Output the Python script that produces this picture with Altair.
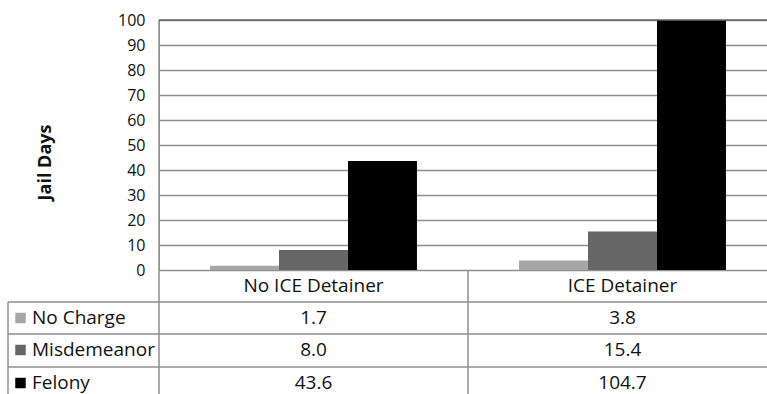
import altair as alt
import pandas as pd

categories = ["No ICE Detainer", "ICE Detainer"]
series = ["No Charge", "Misdemeanor", "Felony"]
no_ice_values = [1.7, 8.0, 43.6]
ice_values = [3.8, 15.4, 104.7]
colors = ["#a6a6a6", "#666666", "#000000"]
y_ticks = list(range(0, 101, 10))

rows = []
for cat, vals in zip(categories, [no_ice_values, ice_values]):
    for s, v in zip(series, vals):
        rows.append({"cat": cat, "series": s, "value": v, "label": f"{v:.1f}"})
df = pd.DataFrame(rows)
ser_df = pd.DataFrame({"series": series})
cat_df = pd.DataFrame({"cat": categories})

FONT = "Open Sans"
GRID = "#8f8f8f"
TFS = 19

x_scale = alt.Scale(domain=categories, range=[0, 618], paddingInner=0, paddingOuter=0)
color_scale = alt.Scale(domain=series, range=colors)

bars = alt.Chart(df).mark_bar(clip=True).encode(
    x=alt.X("cat:N", sort=categories, scale=x_scale,
            axis=alt.Axis(labels=False, ticks=False, title=None, domain=True,
                          domainColor=GRID, grid=False)),
    xOffset=alt.XOffset("series:N", sort=series,
                        scale=alt.Scale(domain=series, paddingInner=0, paddingOuter=0.74)),
    y=alt.Y("value:Q", scale=alt.Scale(domain=[0, 100], nice=False),
            axis=alt.Axis(values=y_ticks, grid=True, gridColor=GRID, gridWidth=1.3,
                          domainColor=GRID, ticks=False, labelPadding=14,
                          labelFont=FONT, labelFontSize=16, labelColor="#111",
                          title="Jail Days", titleFont=FONT, titleFontSize=18,
                          titleFontWeight="bold", titleColor="#111",
                          titleX=-114, titleY=142, titleBaseline="middle")),
    color=alt.Color("series:N", scale=color_scale, legend=None),
)

layers = [bars]

# table lines
base_rule = alt.Chart(pd.DataFrame({"a": [0]}))
for yy in [282, 314, 347]:
    layers.append(base_rule.mark_rule(color=GRID, strokeWidth=1.5).encode(
        x=alt.value(-151), x2=alt.value(620), y=alt.value(yy)))
layers.append(base_rule.mark_rule(color=GRID, strokeWidth=1.5).encode(
    x=alt.value(0), y=alt.value(0), y2=alt.value(380)))
layers.append(base_rule.mark_rule(color=GRID, strokeWidth=1.5).encode(
    x=alt.value(-151), y=alt.value(282), y2=alt.value(380)))
layers.append(alt.Chart(cat_df).transform_filter(alt.datum.cat == categories[1]).mark_rule(
    color=GRID, strokeWidth=1.5).encode(
    x=alt.X("cat:N", sort=categories, bandPosition=0, scale=x_scale),
    y=alt.value(250), y2=alt.value(380)))
layers.append(base_rule.mark_rule(color="#666666", strokeWidth=1.5).encode(
    x=alt.value(0), x2=alt.value(620), y=alt.value(0)))

# header labels
layers.append(alt.Chart(cat_df).mark_text(font=FONT, fontSize=TFS, color="#111",
                                         baseline="middle").encode(
    x=alt.X("cat:N", sort=categories, scale=x_scale), text="cat:N", y=alt.value(266)))

row_y = [298, 330, 363]
for s, yy in zip(series, row_y):
    layers.append(alt.Chart(df).transform_filter(alt.datum.series == s).mark_text(
        font=FONT, fontSize=TFS, color="#111", baseline="middle").encode(
        x=alt.X("cat:N", sort=categories, scale=x_scale), text="label:N", y=alt.value(yy)))
    sub = alt.Chart(ser_df).transform_filter(alt.datum.series == s)
    layers.append(sub.mark_text(font=FONT, fontSize=TFS, color="#111", align="left",
                                baseline="middle").encode(
        x=alt.value(-127), y=alt.value(yy), text="series:N"))
    layers.append(sub.mark_square(size=110, opacity=1).encode(
        x=alt.value(-138.5), y=alt.value(yy),
        color=alt.Color("series:N", scale=color_scale, legend=None)))

chart = alt.layer(*layers).properties(
    width=608, height=250,
    autosize=alt.AutoSizeParams(type="none"),
    padding={"left": 159, "top": 20, "right": 0, "bottom": 124},
).configure_view(stroke=None).configure(background="white")

chart.save("out.html", embed_options={"renderer": "svg", "actions": False})
